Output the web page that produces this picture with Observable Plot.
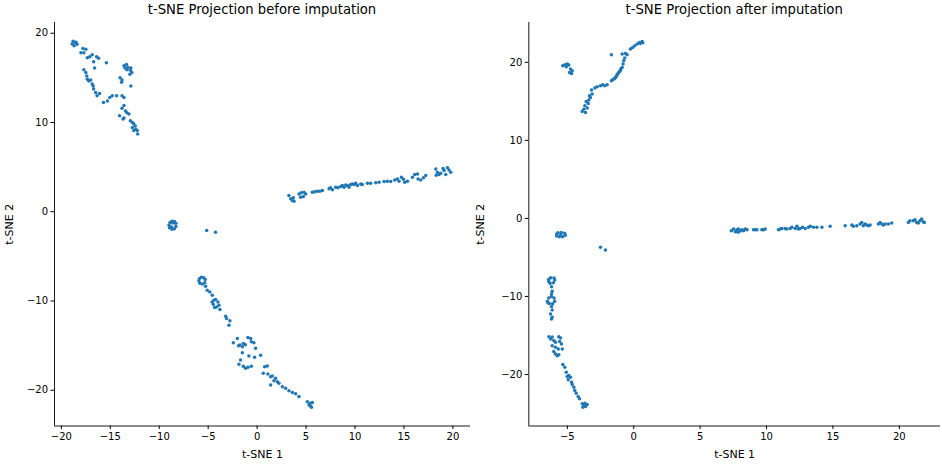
<!DOCTYPE html>
<html>
<head>
<meta charset="utf-8">
<script src="https://cdn.jsdelivr.net/npm/d3@7"></script>
<script src="https://cdn.jsdelivr.net/npm/@observablehq/plot@0.6"></script>
<style>
  body { margin: 0; background: white; }
  #wrap { display: flex; width: 942px; height: 467px; }
  .panel { position: relative; width: 471px; height: 467px; }
  .title { position: absolute; top: 2px; font-family: "DejaVu Sans", sans-serif; font-size: 13.2px; line-height: 15px; text-align: center; color: black; white-space: nowrap; }
  .panel svg { position: absolute; top: 22px; left: 0; }
  .panel svg g[aria-label="x-axis label"] text, .panel svg g[aria-label="y-axis label"] text { font-size: 11px; }
</style>
</head>
<body>
<div id="wrap"></div>
<script>
// ---------- data: before imputation ----------
const beforeTopLeft = [
  [-18.8,19.1],[-18.6,18.95],[-18.4,18.75],[-18.7,18.6],[-18.5,19.0],[-18.9,18.8],
  [-17.8,18.3],[-17.5,18.2],[-18.0,17.8],[-17.7,17.8],
  [-16.85,17.6],[-17.1,17.35],[-17.35,17.25],[-16.4,17.35],[-16.2,17.2],[-16.7,16.8],[-16.6,16.1],[-15.4,16.7],
  [-13.6,16.35],[-13.35,16.5],[-13.2,16.2],[-12.9,16.1],[-13.3,15.9],[-12.8,15.6],[-13.0,15.4],[-13.5,16.1],[-12.95,15.85],
  [-14.0,15.0],[-13.8,14.75],[-13.85,14.5],[-12.9,14.1],
  [-17.7,15.9],[-17.5,15.6],[-17.4,15.2],[-17.35,14.85],[-17.2,14.65],[-17.0,14.75],[-16.85,14.3],[-16.75,14.1],
  [-16.7,13.75],[-16.5,13.35],[-16.35,13.0],[-16.1,13.25],
  [-15.7,12.25],[-15.3,12.4],[-15.05,12.8],[-14.8,13.0],[-14.35,13.0],[-13.8,13.0],[-13.6,12.8],
  [-13.6,11.9],[-13.8,11.6],[-13.45,11.3],[-13.3,11.1],[-13.1,10.95],[-14.05,10.75],[-13.6,10.5],[-13.7,10.4],
  [-12.95,10.2],[-12.75,10.0],[-12.6,9.85],[-12.75,9.45],[-12.4,9.25],[-12.25,9.1],[-12.6,9.1],[-12.2,8.7],[-12.45,9.6]
];
const beforeRightArm = [
  [3.25,1.82],[3.43,1.45],[3.7,1.56],[3.6,1.26],[3.77,1.19],[4.28,2.0],[4.5,2.12],[4.79,2.19],[4.96,2.0],[4.72,1.71],[4.45,1.63],
  [5.64,2.19],[5.88,2.23],[6.15,2.3],[6.42,2.3],[6.67,2.38],[7.35,2.57],[7.5,2.68],[7.7,2.46],[8.03,2.75],[8.26,2.68],
  [8.54,2.83],[8.71,2.94],[8.88,2.75],[9.05,3.0],[9.22,2.94],[9.39,2.75],[9.56,3.05],[9.73,3.12],[9.9,3.05],[10.07,3.2],
  [10.24,2.94],[10.58,3.12],[10.75,3.05],[11.27,3.2],[11.6,3.2],[12.12,3.24],[12.46,3.3],[12.97,3.38],[13.3,3.42],[13.65,3.38],
  [14.06,3.57],[14.33,3.68],[14.5,3.42],[14.74,3.87],[14.95,3.64],[15.08,3.3],[15.36,3.42],[15.87,3.87],[16.1,4.17],[16.38,4.24],
  [16.44,3.68],[16.72,3.57],[16.99,3.8],[17.23,4.05],[18.25,4.8],[18.42,4.42],[18.59,4.17],[18.76,4.31],[19.1,4.61],[19.27,4.17],
  [19.61,4.69],[19.78,4.42],[19.45,4.92],[18.3,4.1],[19.0,4.85]
];
const beforeCenter = [
  [-8.9,-1.2],[-8.7,-1.05],[-8.45,-1.1],[-8.3,-1.3],[-8.3,-1.65],[-8.45,-1.9],[-8.7,-1.95],[-8.95,-1.8],[-9.0,-1.5],[-8.6,-1.25],[-8.75,-1.7],
  [-5.15,-2.1],[-4.25,-2.3]
];
const beforeBottomArm = [
  [-5.9,-7.5],[-5.7,-7.35],[-5.45,-7.4],[-5.3,-7.6],[-5.35,-7.95],[-5.6,-8.1],[-5.85,-8.0],[-5.95,-7.75],
  [-5.27,-8.35],[-5.1,-8.8],[-4.83,-8.98],[-4.58,-9.35],
  [-4.42,-9.91],[-4.24,-9.83],[-4.0,-10.1],[-3.9,-10.47],[-4.14,-10.66],[-3.8,-10.95],[-4.48,-10.36],[-4.35,-10.73],[-4.6,-10.1],
  [-3.22,-11.7],[-3.12,-11.96],[-2.78,-12.22],[-2.88,-12.7],
  [-2.43,-14.68],[-2.02,-14.19],[-1.76,-14.94],[-1.51,-15.13],[-1.41,-14.75],[-1.51,-15.8],[-0.94,-14.08],[-0.66,-14.19],
  [-0.59,-14.57],[-0.33,-14.68],[-0.15,-15.3],[-0.84,-16.17],[-0.26,-16.31],[0.36,-16.07],[-1.69,-16.62],[-1.86,-17.07],
  [-1.41,-17.3],[-1.18,-17.54],[-0.94,-17.43],[-0.59,-17.3],[-1.9,-15.0],[-1.2,-14.9],
  [0.77,-17.36],[1.04,-17.28],[0.63,-18.1],[1.1,-18.18],[1.38,-18.48],[1.55,-18.4],[1.89,-18.66],[1.72,-18.93],[2.07,-19.04],
  [1.38,-19.4],[2.23,-19.22],[2.58,-19.6],[2.91,-19.78],[3.25,-20.04],[3.6,-20.26],[3.93,-20.4],[4.27,-20.7],
  [5.13,-21.27],[5.4,-21.45],[5.64,-21.38],[5.47,-21.75],[5.3,-21.64],[5.55,-21.9]
];

// ---------- data: after imputation ----------
const afterTop = [
  [-5.34,19.55],[-5.19,19.68],[-5.0,19.77],[-4.89,19.64],[-5.08,19.42],[-4.76,19.13],[-4.63,18.91],[-4.68,18.57],[-4.83,18.69],
  [-3.88,13.7],[-3.76,14.0],[-3.63,13.57],[-3.5,14.14],[-3.68,14.43],[-3.43,14.72],[-3.58,14.98],[-3.38,15.16],[-3.26,15.49],
  [-3.33,15.71],[-3.13,15.93],[-3.18,16.44],[-2.93,16.7],[-2.75,16.86],[-2.5,16.99],[-2.33,17.12],[-2.18,16.99],[-2.0,17.12],
  [-1.68,17.63],[-1.5,17.85],[-1.38,18.05],[-1.25,18.4],[-1.13,18.69],[-1.0,19.0],[-0.87,19.33],[-0.8,19.77],[-0.75,20.19],
  [-0.68,20.54],[-0.87,21.05],[-0.62,21.13],[-0.5,20.96],[-1.68,20.96],[-0.25,21.69],[-0.08,21.9],[0.08,22.11],[0.26,22.33],
  [0.43,22.54],[0.63,22.66],[0.5,22.4],[0.68,22.5],[-1.58,17.75],[-1.42,17.95],[-1.3,18.2],[-1.18,18.55],[-1.05,18.85],[-0.95,19.2]
];
const afterLine = [
  [7.35,-1.57],[7.52,-1.36],[7.65,-1.7],[7.77,-1.45],[7.89,-1.36],[8.02,-1.61],[8.15,-1.45],[8.27,-1.57],[7.85,-1.79],[8.4,-1.36],
  [8.53,-1.45],[9.02,-1.45],[9.15,-1.45],[9.28,-1.45],[9.65,-1.45],[9.77,-1.45],[9.9,-1.36],[10.9,-1.45],[11.03,-1.36],[11.16,-1.28],
  [11.41,-1.28],[11.53,-1.36],[11.78,-1.28],[11.91,-1.15],[12.16,-1.28],[12.29,-1.02],[12.41,-1.36],[12.53,-1.28],[12.71,-1.15],
  [12.91,-1.28],[13.16,-1.15],[13.29,-1.02],[13.53,-1.15],[13.79,-1.15],[14.17,-1.15],[14.79,-1.02],[15.92,-0.93],[16.42,-0.85],
  [16.54,-1.02],[16.8,-0.93],[17.05,-0.72],[17.17,-0.51],[17.29,-0.93],[17.42,-0.72],[17.55,-0.85],[17.67,-0.93],[17.8,-0.85],
  [18.42,-0.72],[18.55,-0.51],[18.68,-0.72],[18.8,-0.85],[18.93,-0.72],[19.17,-0.72],[19.43,-0.59],
  [20.68,-0.51],[20.8,-0.29],[21.05,-0.29],[21.18,-0.17],[21.31,-0.51],[21.43,-0.59],[21.55,-0.29],[21.68,-0.08],[21.8,-0.42],[21.88,-0.51]
];
const afterMiddle = [
  [-5.8,-2.0],[-5.7,-1.85],[-5.45,-1.8],[-5.2,-1.9],[-5.15,-2.15],[-5.35,-2.35],[-5.6,-2.35],[-5.8,-2.25],[-5.5,-2.1],
  [-2.5,-3.71],[-2.13,-4.05]
];
const afterLeft = [
  [-6.4,-7.8],[-6.25,-7.6],[-6.0,-7.65],[-5.95,-7.9],[-6.05,-8.25],[-6.3,-8.3],[-6.4,-8.1],
  [-6.19,-8.75],[-6.14,-9.35],[-6.19,-9.68],
  [-6.5,-10.6],[-6.4,-10.2],[-6.2,-10.0],[-6.0,-10.2],[-5.95,-10.6],[-6.1,-10.95],[-6.35,-10.9],[-6.45,-10.85],
  [-6.19,-11.3],[-6.14,-11.73],[-6.26,-12.24],[-6.14,-12.68],[-6.19,-12.88],
  [-6.39,-15.15],[-6.26,-15.44],[-6.14,-15.2],[-6.02,-15.63],[-5.64,-15.15],[-5.51,-15.32],[-5.58,-15.76],[-5.44,-16.09],
  [-5.38,-16.73],[-5.68,-16.73],[-5.89,-16.52],[-6.02,-17.04],[-5.89,-17.37],[-5.76,-17.59],[-5.64,-17.46],[-6.14,-16.31],[-5.89,-15.88],
  [-5.34,-18.73],[-5.19,-19.08],[-5.08,-19.72],[-5.01,-20.27],[-4.89,-20.14],[-4.93,-20.69],[-4.76,-20.36],[-4.68,-21.0],
  [-4.63,-21.29],[-4.51,-21.64],[-4.44,-22.06],[-4.33,-22.41],[-4.18,-22.83],[-4.08,-23.12],[-3.88,-23.76],[-3.76,-23.98],
  [-3.63,-24.1],[-3.5,-23.85],[-3.83,-24.2],[-3.68,-23.69]
];

// ---------- ticks ----------
const beforeXTicks = [-20, -15, -10, -5, 0, 5, 10, 15, 20];
const beforeYTicks = [-20, -10, 0, 10, 20];
const afterXTicks = [-5, 0, 5, 10, 15, 20];
const afterYTicks = [-20, -10, 0, 10, 20];

const fmt = d3.format("d");

function panel({points, title, xDomain, yDomain, xTicks, yTicks, marginLeft, marginRight}) {
  const W = 471, H = 445, mb = 41.5;
  const div = document.createElement("div");
  div.className = "panel";
  const t = document.createElement("div");
  t.className = "title";
  t.style.left = marginLeft + "px";
  t.style.width = (W - marginLeft - marginRight) + "px";
  t.textContent = title;
  div.appendChild(t);
  const chart = Plot.plot({
    width: W, height: H,
    marginTop: 0, marginBottom: mb, marginLeft, marginRight,
    style: {fontFamily: "DejaVu Sans, sans-serif", fontSize: "10px", color: "black", background: "white", overflow: "visible"},
    x: {domain: xDomain, ticks: xTicks, tickFormat: fmt, label: "t-SNE 1", labelAnchor: "center", labelArrow: "none", tickSize: 3.5, tickPadding: 3, labelOffset: 32},
    y: {domain: yDomain, ticks: yTicks, tickFormat: fmt, label: "t-SNE 2", labelAnchor: "center", labelArrow: "none", tickSize: 3.5, tickPadding: 3, labelOffset: marginLeft - 5},
    marks: [
      Plot.dot(points, {x: d => d[0], y: d => d[1], r: 1.75, fill: "#1f77b4", stroke: "none"}),
      Plot.ruleX([xDomain[0]], {stroke: "black", strokeWidth: 0.9}),
      Plot.ruleY([yDomain[0]], {stroke: "black", strokeWidth: 0.9})
    ]
  });
  div.appendChild(chart);
  return div;
}

const wrap = document.getElementById("wrap");
wrap.appendChild(panel({
  points: [...beforeTopLeft, ...beforeRightArm, ...beforeCenter, ...beforeBottomArm],
  title: "t-SNE Projection before imputation",
  xDomain: [-20.7, 21.8], yDomain: [-24, 21.2],
  xTicks: beforeXTicks, yTicks: beforeYTicks,
  marginLeft: 54, marginRight: 1
}));
wrap.appendChild(panel({
  points: [...afterTop, ...afterLine, ...afterMiddle, ...afterLeft],
  title: "t-SNE Projection after imputation",
  xDomain: [-7.9, 23.1], yDomain: [-26.6, 25.1],
  xTicks: afterXTicks, yTicks: afterYTicks,
  marginLeft: 57.3, marginRight: 2
}));
</script>
</body>
</html>
